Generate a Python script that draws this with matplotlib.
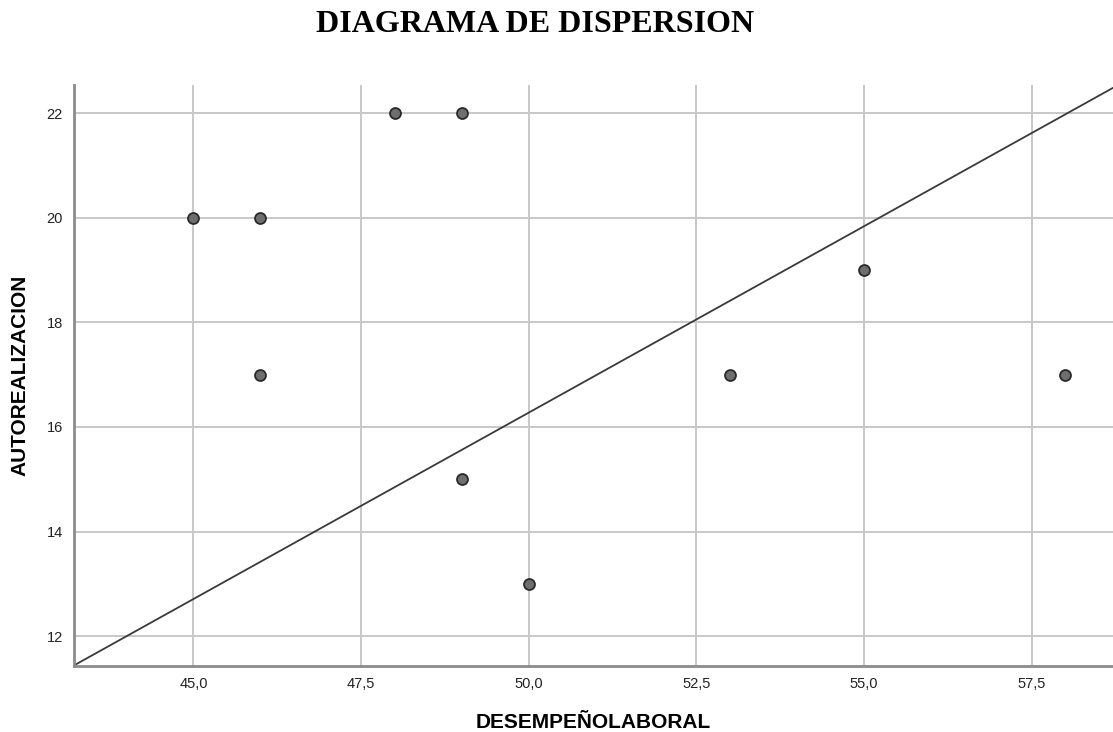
import matplotlib
matplotlib.use("Agg")
import matplotlib.pyplot as plt

# data
desempeno = [45, 46, 46, 48, 49, 49, 50, 53, 55, 58]
autorealizacion = [20, 20, 17, 22, 22, 15, 13, 17, 19, 17]

x_ticks = [45.0, 47.5, 50.0, 52.5, 55.0, 57.5]
x_tick_labels = ["45,0", "47,5", "50,0", "52,5", "55,0", "57,5"]
y_ticks = [12, 14, 16, 18, 20, 22]

# reference line drawn across the plot
line_slope = 0.713
line_at_45 = 12.71

fig = plt.figure(figsize=(11.13, 7.32), dpi=100)
ax = fig.add_axes([0.0665, 0.0902, 0.9335, 0.7937])

ax.grid(True, color="#c8c8c8", linewidth=1.4)
ax.set_axisbelow(True)

ax.axline((45, line_at_45), slope=line_slope, color="#3a3a3a", linewidth=1.3, zorder=2)
ax.scatter(desempeno, autorealizacion, s=62, facecolor="#6e6e6e",
           edgecolor="#2a2a2a", linewidth=1.3, zorder=3)

ax.set_xlim(43.22, 58.71)
ax.set_ylim(11.43, 22.54)
ax.set_xticks(x_ticks)
ax.set_xticklabels(x_tick_labels)
ax.set_yticks(y_ticks)
ax.tick_params(length=0, labelsize=10.5, labelcolor="#222222", pad=8)
for lab in ax.get_xticklabels() + ax.get_yticklabels():
    lab.set_family("Liberation Sans")

for side in ("top", "right"):
    ax.spines[side].set_visible(False)
for side in ("left", "bottom"):
    ax.spines[side].set_color("#8c8c8c")
    ax.spines[side].set_linewidth(2)

ax.set_xlabel("DESEMPEÑOLABORAL", fontsize=15, fontweight="bold",
              family="Liberation Sans", labelpad=16)
ax.set_ylabel("AUTOREALIZACION", fontsize=15, fontweight="bold",
              family="Liberation Sans", labelpad=12)

fig.text(535 / 1113, 1 - 25 / 732, "DIAGRAMA DE DISPERSION", ha="center", va="center",
         fontsize=23, fontweight="bold", family="Liberation Serif")

fig.savefig("out.png", dpi=100)
